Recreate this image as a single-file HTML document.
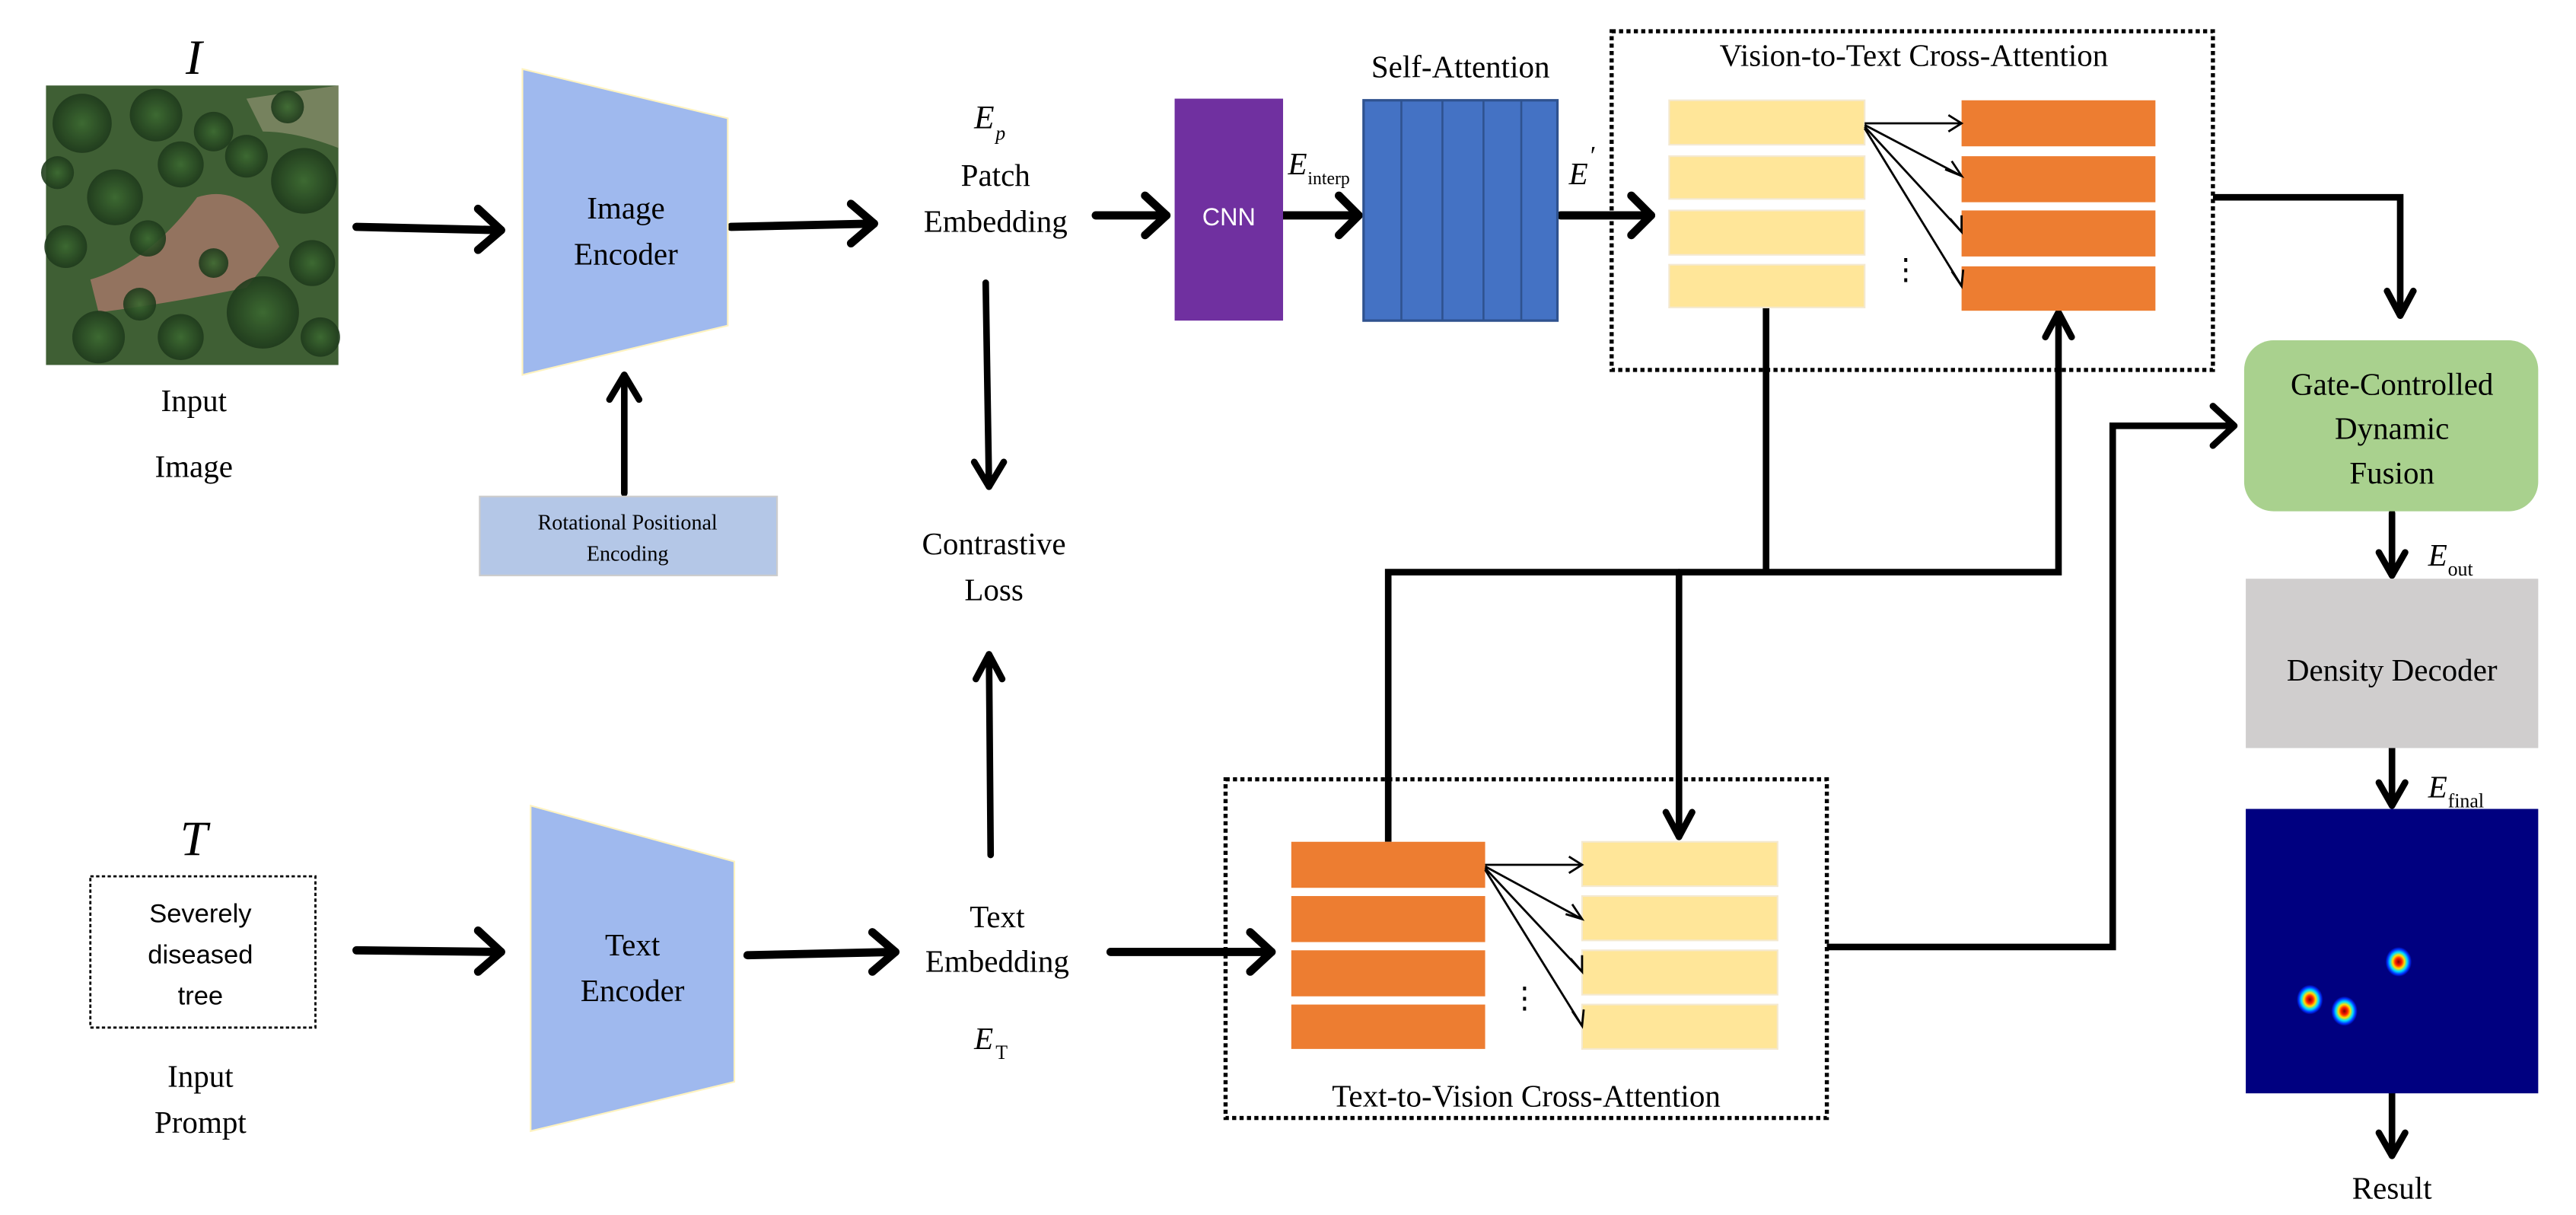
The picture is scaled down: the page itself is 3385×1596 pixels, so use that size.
<!DOCTYPE html>
<html><head><meta charset="utf-8"><style>
html,body{margin:0;padding:0;background:#fff;}
svg{display:block;}
svg text{font-family:"Liberation Serif",serif;fill:#000;}
svg text.s{font-family:"Liberation Sans",sans-serif;}
</style></head><body>
<svg width="3385" height="1596" viewBox="0 0 1568 739" preserveAspectRatio="none" xmlns="http://www.w3.org/2000/svg" font-family="Liberation Serif, serif">
<defs>
<radialGradient id="blob"><stop offset="0" stop-color="#800000"/><stop offset="0.25" stop-color="#ff2000"/><stop offset="0.45" stop-color="#ffe000"/><stop offset="0.65" stop-color="#00e0ff"/><stop offset="0.85" stop-color="#0030ff"/><stop offset="1" stop-color="#000080"/></radialGradient>
<radialGradient id="tr"><stop offset="0" stop-color="#3d6b32"/><stop offset="1" stop-color="#1f3a1c"/></radialGradient>
</defs>
<!-- input image -->
<text x="118" y="45" font-size="30" font-style="italic" text-anchor="middle">I</text>
<rect x="28" y="52" width="178" height="170" fill="#3f5f34"/>
<path d="M120 120 Q150 110 170 150 L150 175 Q100 185 60 190 L55 170 Q90 160 120 120Z" fill="#a9786a" opacity="0.8"/>
<path d="M150 60 L206 52 L206 90 Q180 80 160 80Z" fill="#8f9270" opacity="0.7"/>
<g fill="url(#tr)" opacity="0.9">
<circle cx="50" cy="75" r="18"/><circle cx="95" cy="70" r="16"/><circle cx="185" cy="110" r="20"/><circle cx="70" cy="120" r="17"/><circle cx="110" cy="100" r="14"/><circle cx="160" cy="190" r="22"/><circle cx="60" cy="205" r="16"/><circle cx="190" cy="160" r="14"/><circle cx="130" cy="80" r="12"/><circle cx="40" cy="150" r="13"/><circle cx="110" cy="205" r="14"/>
<circle cx="150" cy="95" r="13"/><circle cx="35" cy="105" r="10"/><circle cx="90" cy="145" r="11"/><circle cx="195" cy="205" r="12"/><circle cx="85" cy="185" r="10"/><circle cx="175" cy="65" r="10"/><circle cx="130" cy="160" r="9"/>
</g>
<text x="118" y="250" font-size="19" text-anchor="middle">Input</text>
<text x="118" y="290" font-size="19" text-anchor="middle">Image</text>

<g stroke="#000" fill="none" stroke-linecap="round" stroke-linejoin="round">
<g stroke-width="5">
<path d="M217 138 L305 140"/><path d="M291 127 L305 140 L291 152"/>
<path d="M445 138 L532 136"/><path d="M518 124 L532 136 L518 148"/>
<path d="M667 131 L710 131"/><path d="M697 119 L710 131 L697 143"/>
<path d="M781 131 L827 131"/><path d="M815 119 L827 131 L815 143"/>
<path d="M950 131 L1005 131"/><path d="M993 119 L1005 131 L993 143"/>
<path d="M217 578 L305 579"/><path d="M291 566 L305 579 L291 591"/>
<path d="M455 581 L545 579"/><path d="M531 567 L545 579 L531 591"/>
<path d="M676 579 L774 579"/><path d="M761 567 L774 579 L761 591"/>
</g>
<g stroke-width="4">
<path d="M380 300 L380 228"/><path d="M371 243 L380 228 L389 243"/>
<path d="M600 172 L602 296"/><path d="M593 281 L602 296 L611 281"/>
<path d="M603 520 L602 398"/><path d="M594 413 L602 398 L610 413"/>
<path d="M1347 120 L1461 120 L1461 192" stroke-linecap="butt" stroke-linejoin="miter"/><path d="M1453 177 L1461 192 L1469 177"/>
<path d="M1112 576 L1286 576 L1286 259 L1360 259" stroke-linecap="butt" stroke-linejoin="miter"/><path d="M1347 247 L1360 259 L1347 271"/>
<path d="M1456 312 L1456 350"/><path d="M1448 336 L1456 350 L1464 336"/>
<path d="M1456 455 L1456 490"/><path d="M1448 476 L1456 490 L1464 476"/>
<path d="M1456 665 L1456 703"/><path d="M1448 689 L1456 703 L1464 689"/>
<path d="M1075 187 L1075 348 M845 512 L845 348 L1253 348 L1253 190" stroke-linecap="butt" stroke-linejoin="miter"/><path d="M1245 205 L1253 190 L1261 205"/>
<path d="M1022 348 L1022 509"/><path d="M1014 494 L1022 509 L1030 494"/>
</g>
</g>

<polygon points="318,42 443,72 443,198 318,228" fill="#9fb9ee" stroke="#fff3c0" stroke-width="1"/>
<text x="381" y="133" font-size="19" text-anchor="middle" font-family="Liberation Serif, serif">Image</text>
<text x="381" y="161" font-size="19" text-anchor="middle" font-family="Liberation Serif, serif">Encoder</text>
<rect x="292" y="302" width="181" height="48" fill="#b4c7e7" stroke="#ccc" stroke-width="1"/>
<text x="382" y="322" font-size="13" text-anchor="middle">Rotational Positional</text>
<text x="382" y="341" font-size="13" text-anchor="middle">Encoding</text>

<text x="593" y="78" font-size="20" font-style="italic">E</text><text x="606" y="85" font-size="12" font-style="italic">p</text>
<text x="606" y="113" font-size="19" text-anchor="middle">Patch</text>
<text x="606" y="141" font-size="19" text-anchor="middle">Embedding</text>
<text x="605" y="337" font-size="19" text-anchor="middle">Contrastive</text>
<text x="605" y="365" font-size="19" text-anchor="middle">Loss</text>

<rect x="715" y="60" width="66" height="135" fill="#7030a0"/>
<text x="748" y="137" font-size="15" class="s" text-anchor="middle" font-family="Liberation Sans, sans-serif" style="fill:#fff">CNN</text>
<text x="784" y="106" font-size="19" font-style="italic">E</text><text x="796" y="112" font-size="11">interp</text>

<text x="889" y="47" font-size="19" text-anchor="middle">Self-Attention</text>
<rect x="830" y="61" width="118" height="134" fill="#4472c4" stroke="#2f528f" stroke-width="1.5"/>
<g stroke="#2f528f" stroke-width="1.2"><line x1="853" y1="61" x2="853" y2="195"/><line x1="878" y1="61" x2="878" y2="195"/><line x1="903" y1="61" x2="903" y2="195"/><line x1="926" y1="61" x2="926" y2="195"/></g>
<text x="955" y="112" font-size="19" font-style="italic">E</text><text x="968" y="100" font-size="16">′</text>

<rect x="981" y="19" width="366" height="206" fill="none" stroke="#000" stroke-width="2.5" stroke-dasharray="2.5,2"/>
<text x="1165" y="40" font-size="19" text-anchor="middle">Vision-to-Text Cross-Attention</text>
<g fill="#ffe699" stroke="#f4e9d0" stroke-width="1">
<rect x="1016" y="61" width="119" height="27"/><rect x="1016" y="95" width="119" height="26"/><rect x="1016" y="128" width="119" height="27"/><rect x="1016" y="161" width="119" height="26"/>
</g>
<g fill="#ed7d31">
<rect x="1194" y="61" width="118" height="28"/><rect x="1194" y="95" width="118" height="28"/><rect x="1194" y="128" width="118" height="28"/><rect x="1194" y="162" width="118" height="27"/>
</g>
<g stroke="#000" stroke-width="1.3" fill="none">
<path d="M1135 75 L1194 75 M1135 76 L1194 107 M1135 77 L1194 141 M1135 78 L1194 174"/>
<path d="M1186 70 L1194 75 L1186 80 M1184 103 L1194 107 L1188 98 M1187 133 L1194 141 L1194 131 M1188 165 L1194 174 L1195 164"/>
</g>
<text x="1160" y="170" font-size="18" text-anchor="middle">⋮</text>

<rect x="1366" y="207" width="179" height="104" rx="18" fill="#a9d18e"/>
<text x="1456" y="240" font-size="19" text-anchor="middle">Gate-Controlled</text>
<text x="1456" y="267" font-size="19" text-anchor="middle">Dynamic</text>
<text x="1456" y="294" font-size="19" text-anchor="middle">Fusion</text>
<text x="1478" y="344" font-size="19" font-style="italic">E</text><text x="1490" y="350" font-size="12">out</text>
<rect x="1367" y="352" width="178" height="103" fill="#d0cece"/>
<text x="1456" y="414" font-size="19" text-anchor="middle">Density Decoder</text>
<text x="1478" y="485" font-size="19" font-style="italic">E</text><text x="1490" y="491" font-size="12">final</text>
<rect x="1367" y="492" width="178" height="173" fill="#000080"/>
<ellipse cx="1460" cy="585" rx="8" ry="9" fill="url(#blob)"/>
<ellipse cx="1406" cy="608" rx="8" ry="9" fill="url(#blob)"/>
<ellipse cx="1427" cy="615" rx="8" ry="9" fill="url(#blob)"/>
<text x="1456" y="729" font-size="19" text-anchor="middle">Result</text>

<text x="118" y="520" font-size="30" font-style="italic" text-anchor="middle">T</text>
<rect x="55" y="533" width="137" height="92" fill="none" stroke="#000" stroke-width="1.3" stroke-dasharray="2,1.5"/>
<text x="122" y="561" font-size="16" class="s" font-family="Liberation Sans, sans-serif" text-anchor="middle">Severely</text>
<text x="122" y="586" font-size="16" class="s" font-family="Liberation Sans, sans-serif" text-anchor="middle">diseased</text>
<text x="122" y="611" font-size="16" class="s" font-family="Liberation Sans, sans-serif" text-anchor="middle">tree</text>
<text x="122" y="661" font-size="19" text-anchor="middle">Input</text>
<text x="122" y="689" font-size="19" text-anchor="middle">Prompt</text>
<polygon points="323,490 447,524 447,658 323,688" fill="#9fb9ee" stroke="#fff3c0" stroke-width="1"/>
<text x="385" y="581" font-size="19" text-anchor="middle">Text</text>
<text x="385" y="609" font-size="19" text-anchor="middle">Encoder</text>
<text x="607" y="564" font-size="19" text-anchor="middle">Text</text>
<text x="607" y="591" font-size="19" text-anchor="middle">Embedding</text>
<text x="593" y="638" font-size="19" font-style="italic">E</text><text x="606" y="644" font-size="12">T</text>

<rect x="746" y="474" width="366" height="206" fill="none" stroke="#000" stroke-width="2.5" stroke-dasharray="2.5,2"/>
<g fill="#ed7d31">
<rect x="786" y="512" width="118" height="28"/><rect x="786" y="545" width="118" height="28"/><rect x="786" y="578" width="118" height="28"/><rect x="786" y="611" width="118" height="27"/>
</g>
<g fill="#ffe699" stroke="#f4e9d0" stroke-width="1">
<rect x="963" y="512" width="119" height="27"/><rect x="963" y="545" width="119" height="27"/><rect x="963" y="578" width="119" height="27"/><rect x="963" y="611" width="119" height="27"/>
</g>
<g stroke="#000" stroke-width="1.3" fill="none">
<path d="M904 526 L963 526 M904 527 L963 559 M904 528 L963 591 M904 529 L963 624"/>
<path d="M955 521 L963 526 L955 531 M953 556 L963 559 L957 550 M956 583 L963 591 L963 581 M957 615 L963 624 L964 614"/>
</g>
<text x="928" y="613" font-size="18" text-anchor="middle">⋮</text>
<text x="929" y="673" font-size="19" text-anchor="middle">Text-to-Vision Cross-Attention</text>
</svg>
</body></html>
